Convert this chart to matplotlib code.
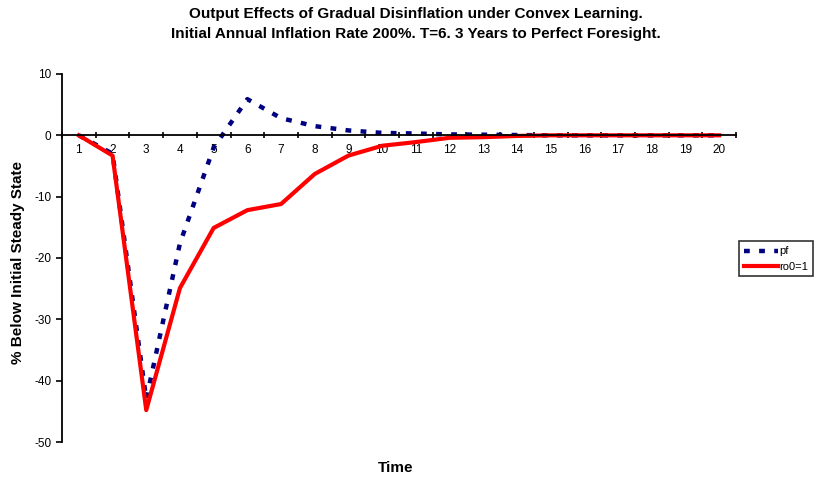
import numpy as np
import matplotlib.pyplot as plt

plt.rcParams['font.family'] = ['Liberation Sans', 'DejaVu Sans']
plt.rcParams['axes.unicode_minus'] = False

time = list(range(1, 21))
pf = [0, -3, -43, -17.6, -2, 5.9, 2.8, 1.5, 0.8, 0.4, 0.3, 0.15, 0.1, 0.05, 0, 0, 0, 0, 0, 0]
ro0 = [0, -3.3, -44.8, -24.9, -15.1, -12.2, -11.2, -6.3, -3.3, -1.7, -1.1, -0.4, -0.3, -0.1, 0, 0, 0, 0, 0, 0]
yticks = [-50, -40, -30, -20, -10, 0, 10]

fig = plt.figure(figsize=(8.15, 4.86), dpi=100)
ax = fig.add_axes([62/815, 1-442/486, (736-62)/815, (442-74)/486])

ax.plot(time, pf, color='#000080', lw=3.2, dashes=(1.3, 2.1), label='pf')
ax.plot(time, ro0, color='#ff0000', lw=3.0, label='ro0=1')

ax.set_xlim(0.5, 20.5)
ax.set_ylim(-50, 10)
ax.set_yticks(yticks)
ax.spines['bottom'].set_position(('data', 0))
ax.spines['top'].set_visible(False)
ax.spines['right'].set_visible(False)
ax.spines['bottom'].set_linewidth(1.3)
ax.spines['left'].set_linewidth(1.3)

ax.set_xticks(time)
ax.set_xticks(np.arange(0.5, 21, 1), minor=True)
ax.tick_params(axis='x', which='major', length=0, labelsize=8.5, pad=6)
ax.tick_params(axis='x', which='minor', length=4, width=1.2, direction='inout')
ax.tick_params(axis='y', length=4, width=1.2, labelsize=8.5)

fig.text(18/815, 1-262/486, '% Below Initial Steady State', rotation=90, ha='center', va='center',
         fontsize=11, fontweight='bold')
fig.text(396/815, 1-468/486, 'Time', ha='center', va='center', fontsize=11, fontweight='bold')
fig.text(416/815, 1-24/486, 'Output Effects of Gradual Disinflation under Convex Learning.\n'
         'Initial Annual Inflation Rate 200%. T=6. 3 Years to Perfect Foresight.',
         ha='center', va='center', fontsize=11, fontweight='bold', linespacing=1.5)

leg = ax.legend(loc='center left', bbox_to_anchor=(739/815, 1-259/486), bbox_transform=fig.transFigure,
                fontsize=8, frameon=True, fancybox=False, edgecolor='black', handlelength=3.1,
                handletextpad=0.1, borderpad=0.45, labelspacing=0.45, borderaxespad=0)
leg.get_frame().set_linewidth(1.2)

fig.savefig('out.png', dpi=100)
